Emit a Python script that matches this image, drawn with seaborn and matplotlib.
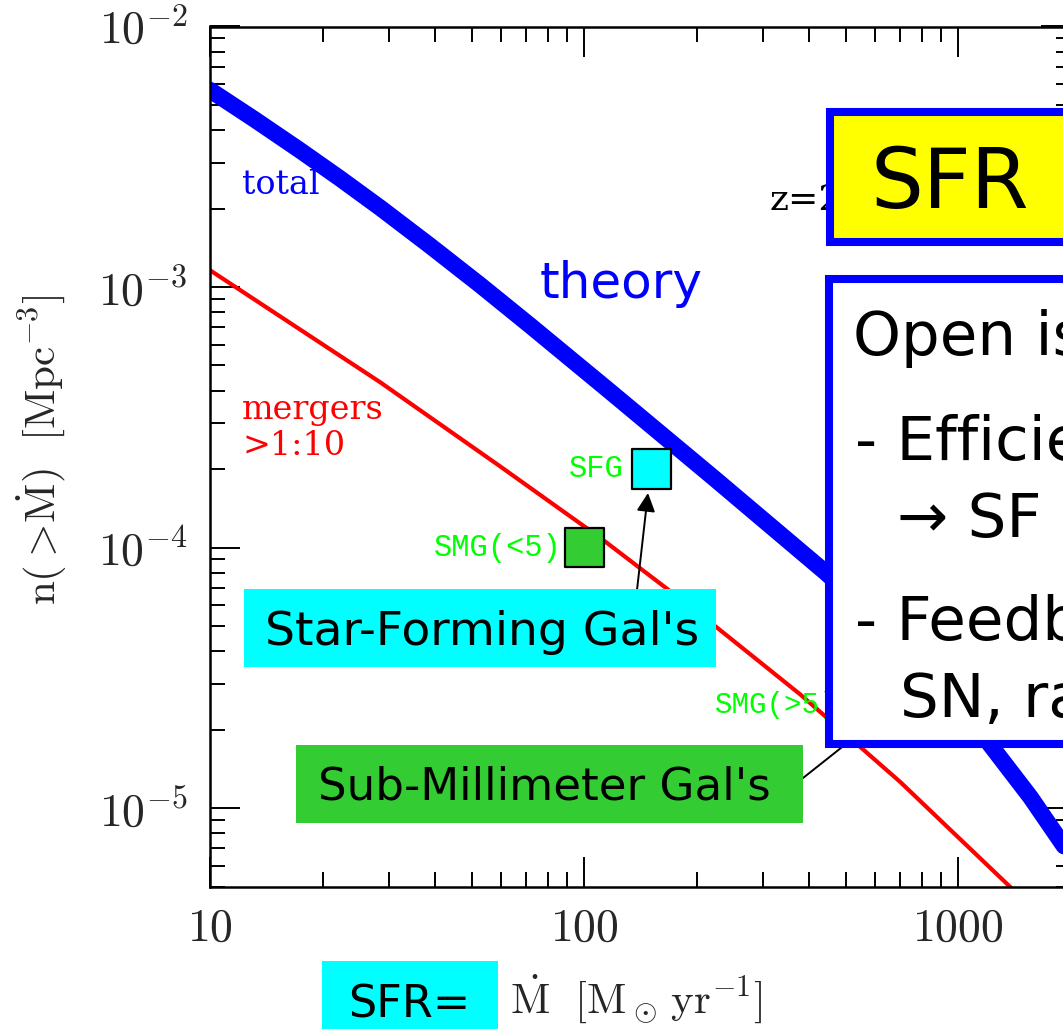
import numpy as np
import pandas as pd
import matplotlib
matplotlib.use("Agg")
import matplotlib.pyplot as plt
from matplotlib.patches import Rectangle
from matplotlib.ticker import LogLocator, NullFormatter, FixedLocator, FixedFormatter
import seaborn as sns

# Cumulative number density of galaxies above a given star-formation rate (z=2)
sfr_total = [10, 13.19, 17.4, 22.27, 28.48, 38.74, 52.72, 71.71, 117.3,
             221.3, 441, 618.6, 895.1, 1195.5, 1557.7, 1908, 2055]
n_total = [5.70e-3, 4.387e-3, 3.347e-3, 2.609e-3, 2.016e-3, 1.440e-3,
           1.018e-3, 7.115e-4, 3.970e-4, 1.857e-4, 8.04e-5, 5.194e-5,
           2.976e-5, 1.808e-5, 1.102e-5, 7.21e-6, 6.15e-6]

sfr_mergers = [10, 28.5, 59.6, 110.4, 204.3, 378, 700, 1360, 1656]
n_mergers = [1.16e-3, 4.31e-4, 2.05e-4, 1.09e-4, 5.55e-5, 2.73e-5, 1.258e-5,
             5.06e-6, 3.85e-6]

# Observed populations
obs_names = ["SFG", "SMG(<5)", "SMG(>5)"]
obs_sfr = [151, 100, 570]
obs_n = [2.0e-4, 1.0e-4, 2.5e-5]
obs_fill = ["#00ffff", "#33cc33", "#33cc33"]

xtick_vals = [10, 100, 1000]
xtick_labels = [r"$10$", r"$100$", r"$1000$"]
ytick_vals = [1e-5, 1e-4, 1e-3, 1e-2]
ytick_labels = [r"$10^{-5}$", r"$10^{-4}$", r"$10^{-3}$", r"$10^{-2}$"]

sns.set_style("ticks")
plt.rcParams["mathtext.fontset"] = "cm"
plt.rcParams["font.family"] = ["DejaVu Sans"]

W, H = 1063, 1029
fig = plt.figure(figsize=(W / 100, H / 100), dpi=100)


def fx(px):
    return px / W


def fy(py):
    return 1 - py / H


ax = fig.add_axes([fx(210), fy(886.5), (1071 - 210) / W, (886.5 - 26.5) / H])

df_total = pd.DataFrame({"sfr": sfr_total, "n": n_total})
df_merg = pd.DataFrame({"sfr": sfr_mergers, "n": n_mergers})
sns.lineplot(data=df_total, x="sfr", y="n", ax=ax, color="#0000ff",
             linewidth=12, sort=False, estimator=None)
sns.lineplot(data=df_merg, x="sfr", y="n", ax=ax, color="#ff0000",
             linewidth=3, sort=False, estimator=None)
for ln in ax.lines:
    ln.set_solid_joinstyle("round")

df_obs = pd.DataFrame({"sfr": obs_sfr, "n": obs_n, "name": obs_names})
sns.scatterplot(data=df_obs, x="sfr", y="n", hue="name",
                palette=dict(zip(obs_names, obs_fill)), marker="s", s=800,
                edgecolor="black", linewidth=1.6, ax=ax, legend=False,
                zorder=4)

ax.set_xscale("log")
ax.set_yscale("log")
ax.set_xlim(10, 2000)
ax.set_ylim(5e-6, 1e-2)

ax.xaxis.set_major_locator(FixedLocator(xtick_vals))
ax.xaxis.set_major_formatter(FixedFormatter(xtick_labels))
ax.yaxis.set_major_locator(FixedLocator(ytick_vals))
ax.yaxis.set_major_formatter(FixedFormatter(ytick_labels))
for axis in (ax.xaxis, ax.yaxis):
    axis.set_minor_locator(LogLocator(base=10, subs=np.arange(2, 10), numticks=20))
    axis.set_minor_formatter(NullFormatter())

ax.tick_params(which="both", direction="in", top=True, right=True,
               color="black", width=1.4)
ax.tick_params(which="major", length=21.6, labelsize=33)
ax.tick_params(which="minor", length=10.8)
ax.tick_params(axis="x", which="major", pad=14)
ax.tick_params(axis="y", which="major", pad=16)
for sp in ax.spines.values():
    sp.set_linewidth(1.8)
    sp.set_color("black")
ax.set_xlabel("")
ax.set_ylabel("")


def ftext(px, py, s, **kw):
    return fig.text(fx(px), fy(py), s, **kw)


# Curve and point labels
ftext(242, 185, "total", color="#0000ff", family="DejaVu Serif", fontsize=24,
      va="center", zorder=3)
ftext(242, 410, "mergers", color="#ff0000", family="DejaVu Serif", fontsize=24,
      va="center", zorder=3)
ftext(242, 446, ">1:10", color="#ff0000", family="DejaVu Serif", fontsize=24,
      va="center", zorder=3)
ftext(540, 298, "theory", color="#0000ff", family="DejaVu Sans", fontsize=36,
      va="baseline", zorder=3)
ftext(624, 469, "SFG", color="#00ff00", family="Liberation Mono", fontsize=22,
      ha="right", va="center", zorder=3)
ftext(562, 548, "SMG(<5)", color="#00ff00", family="Liberation Mono",
      fontsize=22, ha="right", va="center", zorder=3)
ftext(715, 705, "SMG(>5)", color="#00ff00", family="Liberation Mono",
      fontsize=21, va="center", zorder=3)
ftext(770, 210, "z=2", color="black", family="DejaVu Serif", fontsize=26,
      va="baseline", zorder=3)

# Axis titles
fig.text(fx(42), fy(450), r"$\mathrm{n}(>\!\dot{\mathrm{M}})\ \ [\mathrm{Mpc}^{-3}]$",
         rotation=90, ha="center", va="center", fontsize=31)
fig.text(fx(510), fy(1013), r"$\dot{\mathrm{M}}\ \ [\mathrm{M}_\odot\,\mathrm{yr}^{-1}]$",
         ha="left", va="baseline", fontsize=31)

# Pointers from the population boxes
ax.annotate("", xy=(648, H - 493), xytext=(637, H - 590),
            xycoords="figure pixels", textcoords="figure pixels",
            arrowprops=dict(arrowstyle="-|>", color="black", lw=1.4,
                            mutation_scale=28, shrinkA=0, shrinkB=0))
ax.annotate("", xy=(880, H - 717), xytext=(798, H - 782),
            xycoords="figure pixels", textcoords="figure pixels",
            arrowprops=dict(arrowstyle="-", color="black", lw=1.4,
                            shrinkA=0, shrinkB=0))


def box(x0, y0, x1, y1, face, edge=None, lw=0.0):
    r = Rectangle((fx(x0), fy(y1)), (x1 - x0) / W, (y1 - y0) / H,
                  transform=fig.transFigure, facecolor=face,
                  edgecolor=edge if edge else face, linewidth=lw, zorder=5)
    fig.add_artist(r)


box(244, 589, 716, 667, "#00ffff")
box(296, 745, 803, 823, "#33cc33")
box(322, 961, 498, 1040, "#00ffff")
box(830, 112, 1120, 241.5, "#ffff00", "#0000ff", 5.8)
box(829, 279, 1120, 744, "white", "#0000ff", 5.8)

bt = dict(color="black", family="DejaVu Sans", va="baseline", zorder=6)
ftext(265, 645, "Star-Forming Gal's", fontsize=34, **bt)
ftext(318, 800, "Sub-Millimeter Gal's", fontsize=32.5, **bt)
ftext(348, 1018, "SFR=", fontsize=32, **bt)
ftext(870, 208, "SFR", fontsize=60, **bt)
ftext(853, 355, "Open issues:", fontsize=44, **bt)
ftext(855, 460, "- Efficiency of SF", fontsize=44, **bt)
ftext(897, 537, "\u2192 SF law", fontsize=44, **bt)
ftext(855, 640, "- Feedback:", fontsize=44, **bt)
ftext(900, 717, "SN, radiation", fontsize=44, **bt)

fig.savefig("out.png", dpi=100)
